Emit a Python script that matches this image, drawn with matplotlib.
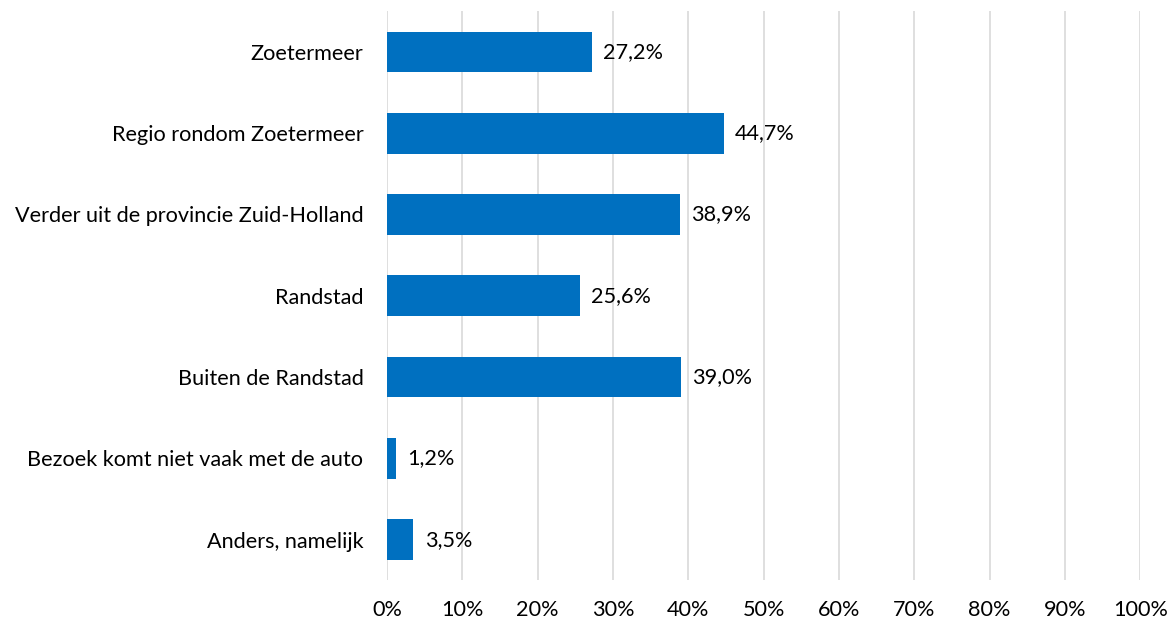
import matplotlib.pyplot as plt

# Data
categories = [
    "Zoetermeer",
    "Regio rondom Zoetermeer",
    "Verder uit de provincie Zuid-Holland",
    "Randstad",
    "Buiten de Randstad",
    "Bezoek komt niet vaak met de auto",
    "Anders, namelijk",
]
values = [27.2, 44.7, 38.9, 25.6, 39.0, 1.2, 3.5]
value_labels = ["27,2%", "44,7%", "38,9%", "25,6%", "39,0%", "1,2%", "3,5%"]
tick_values = [0, 10, 20, 30, 40, 50, 60, 70, 80, 90, 100]
tick_labels = [f"{t}%" for t in tick_values]

plt.rcParams['font.family'] = ['Lato', 'DejaVu Sans']
fs = 15.6

fig = plt.figure(figsize=(11.73, 6.24), dpi=100)
ax = fig.add_axes([0.33, 0.07, 0.642, 0.912])

y = list(range(len(categories)))
ax.barh(y, values, height=0.5, color="#0070C0", zorder=3)
for yi, v, lab in zip(y, values, value_labels):
    ax.text(v + 1.5, yi, lab, va="center", ha="left", fontsize=fs, color="#000000")

ax.set_yticks(y)
ax.set_yticklabels(categories, fontsize=fs)
ax.set_ylim(len(categories) - 0.5, -0.5)
ax.set_xlim(0, 100)
ax.set_xticks(tick_values)
ax.set_xticklabels(tick_labels, fontsize=fs)
ax.tick_params(axis="y", length=0, pad=17)
ax.tick_params(axis="x", length=0, pad=14)
ax.xaxis.grid(True, color="#D9D9D9", linewidth=1.2, zorder=0)
for s in ax.spines.values():
    s.set_visible(False)

fig.savefig("out.png", dpi=100)
